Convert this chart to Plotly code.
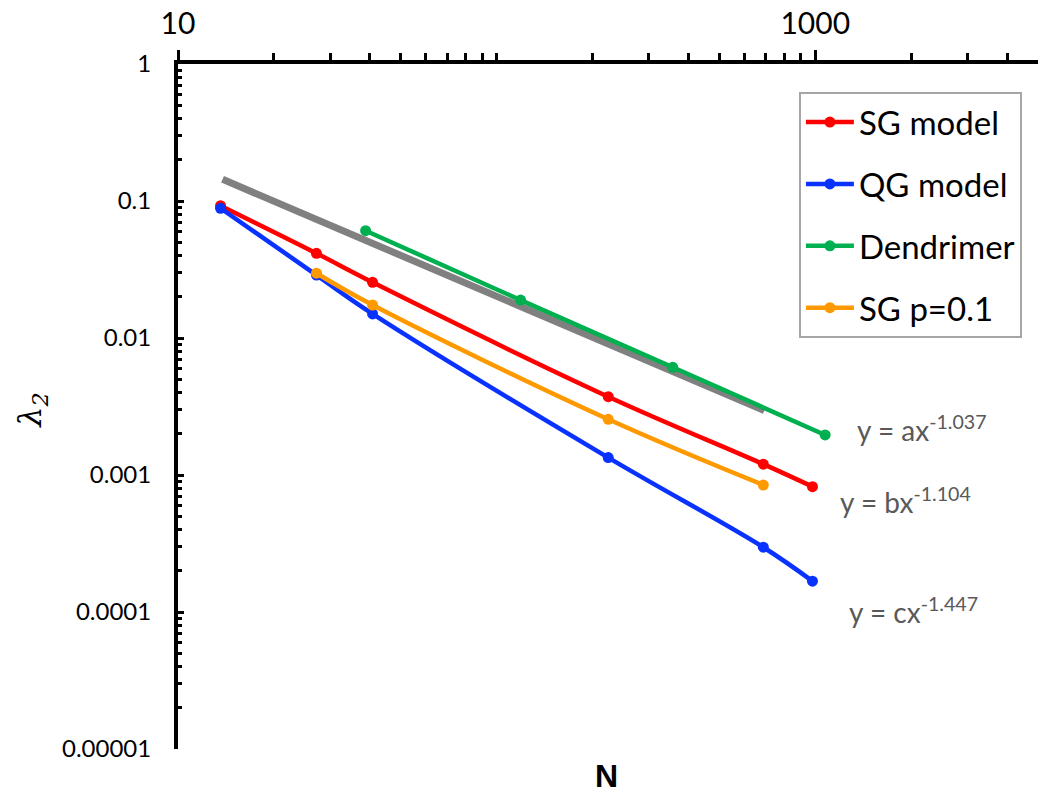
import plotly.graph_objects as go

# ---- data ----
sg_N = [13.6, 27.2, 40.8, 224, 687, 980]
sg_l2 = [0.0924, 0.0415, 0.0255, 0.00373, 0.00120, 0.000822]

qg_N = [13.6, 27.2, 40.8, 224, 687, 980]
qg_l2 = [0.0885, 0.0288, 0.0150, 0.00134, 0.000297, 0.000168]

den_N = [38.8, 118.9, 357, 1074]
den_l2 = [0.0607, 0.0189, 0.00611, 0.00196]

sgp_N = [27.2, 40.8, 224, 687]
sgp_l2 = [0.0297, 0.0174, 0.00255, 0.000845]

fit_N = [13.8, 692]
fit_l2 = [0.144, 0.00295]

x_major = [10, 1000]
x_minor = [20, 30, 40, 50, 60, 70, 80, 90, 100, 200, 300, 400, 500, 600, 700, 800, 900, 2000, 3000, 4000]
y_major = [1e-5, 1e-4, 1e-3, 1e-2, 1e-1, 1]
y_major_text = ["0.00001", "0.0001", "0.001", "0.01", "0.1", "1"]
y_minor = [k * 10.0 ** e for e in range(-5, 0) for k in range(2, 10)]

eq_texts = ["y = ax<sup>-1.037</sup>", "y = bx<sup>-1.104</sup>", "y = cx<sup>-1.447</sup>"]

RED = "#ff0000"
BLUE = "#0a32ff"
GREEN = "#00b050"
ORANGE = "#ff9900"
GRAY = "#808080"
FONT = "Lato"

fig = go.Figure()
fig.add_trace(go.Scatter(x=fit_N, y=fit_l2, mode="lines", line=dict(color=GRAY, width=7),
                         showlegend=False, hoverinfo="skip"))

series = [
    ("SG model", sg_N, sg_l2, RED),
    ("QG model", qg_N, qg_l2, BLUE),
    ("Dendrimer", den_N, den_l2, GREEN),
    ("SG p=0.1", sgp_N, sgp_l2, ORANGE),
]
for i, (name, xs, ys, col) in enumerate(series):
    fig.add_trace(go.Scatter(
        x=xs, y=ys, name=name, mode="lines+markers", legendgroup=f"g{i}",
        line=dict(color=col, width=4.5, shape="spline", smoothing=1.0),
        marker=dict(color=col, size=11),
    ))

fig.update_layout(
    width=1038, height=796,
    margin=dict(l=178, r=0, t=64, b=47),
    plot_bgcolor="white", paper_bgcolor="white",
    font=dict(family=FONT, color="black"),
    showlegend=True,
    legend=dict(
        x=0.722, y=0.959, xanchor="left", yanchor="top",
        bordercolor="#a6a6a6", borderwidth=2, bgcolor="white",
        font=dict(family=FONT, size=33, color="black"),
        tracegroupgap=16, itemwidth=48,
    ),
    xaxis=dict(
        type="log", side="top", range=[1, 3.699],
        tickvals=x_major, ticktext=["10", "1000"],
        ticks="outside", ticklen=10, tickwidth=3, tickcolor="black",
        tickfont=dict(family=FONT, size=30, color="black"),
        minor=dict(tickvals=x_minor, ticks="outside", ticklen=7, tickwidth=3, tickcolor="black"),
        showline=True, linecolor="black", linewidth=4,
        showgrid=False, zeroline=False,
        ticklabelstandoff=4,
    ),
    yaxis=dict(
        type="log", range=[-5, 0],
        tickvals=y_major, ticktext=y_major_text,
        ticks="inside", ticklen=6, tickwidth=3, tickcolor="black",
        tickfont=dict(family=FONT, size=24, color="black"),
        minor=dict(tickvals=y_minor, ticks="inside", ticklen=4, tickwidth=2.5, tickcolor="black"),
        showline=True, linecolor="black", linewidth=4,
        showgrid=False, zeroline=False,
        ticklabelstandoff=18,
    ),
)

eq_pos = [(0.787, 0.468), (0.7676, 0.3625), (0.778, 0.202)]
for txt, (px, py) in zip(eq_texts, eq_pos):
    fig.add_annotation(x=px, y=py, xref="paper", yref="paper", text=txt, showarrow=False,
                       xanchor="left", yanchor="middle",
                       font=dict(family=FONT, size=28, color="#595959"))

fig.add_annotation(x=0.4988, y=-0.039, xref="paper", yref="paper", text="<b>N</b>",
                   showarrow=False, xanchor="center", yanchor="middle",
                   font=dict(family="Liberation Sans", size=32, color="black"))
fig.add_annotation(x=-0.17, y=0.495, xref="paper", yref="paper", text="λ<sub>2</sub>",
                   showarrow=False, xanchor="center", yanchor="middle", textangle=-90,
                   font=dict(family="DejaVu Serif", size=32, color="black", style="italic"))

fig.write_html("out.html")
